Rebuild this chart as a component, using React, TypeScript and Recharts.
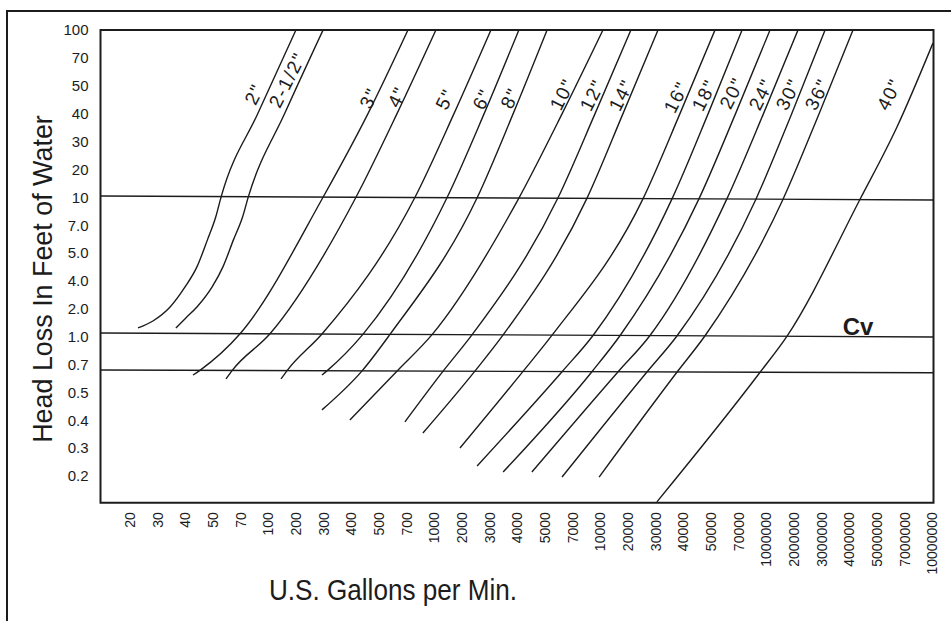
import React from "react";
import {
  ComposedChart,
  Line,
  Scatter,
  XAxis,
  YAxis,
  ReferenceArea,
  Label
} from "recharts";

const FONT = '"Liberation Sans", Arial, Helvetica, sans-serif';
const INK = "#1c1c1c";
const W = 951;
const H = 621;

// printed scales: every label sits one step further on, so values below are
// positions along these scales (0 = first label)
const flowLabels = [
  "20", "30", "40", "50", "70", "100", "200", "300", "400", "500", "700",
  "1000", "2000", "3000", "4000", "5000", "7000", "10000", "20000", "30000",
  "40000", "50000", "70000", "1000000", "2000000", "3000000", "4000000",
  "5000000", "7000000", "10000000"
];
const lossLabels = [
  "100", "70", "50", "40", "30", "20", "10", "7.0", "5.0", "4.0", "2.0",
  "1.0", "0.7", "0.5", "0.4", "0.3", "0.2"
];

const sizeNames = [
  '2"', '2-1/2"', '3"', '4"', '5"', '6"', '8"', '10"', '12"', '14"', '16"',
  '18"', '20"', '24"', '30"', '36"', '40"'
];

// each curve from its low end up to the top of the chart
const curveFlow: number[][] = [
  [0.29, 0.83, 1.45, 1.99, 2.42, 2.8, 3.1, 3.3, 4.63, 6.0],
  [1.66, 2.02, 2.42, 2.97, 3.36, 3.74, 4.07, 4.28, 5.6, 6.98],
  [2.28, 2.53, 3.98, 6.98, 8.6, 10.05],
  [3.47, 3.69, 5.06, 8.17, 9.65, 11.06],
  [5.46, 5.68, 6.94, 10.3, 11.71, 13.05],
  [6.94, 7.12, 8.42, 11.46, 12.8, 14.06],
  [6.94, 8.39, 9.4, 12.55, 13.85, 15.08],
  [7.95, 9.65, 10.92, 14.06, 15.62, 17.1],
  [9.94, 11.32, 12.37, 15.47, 16.81, 18.11],
  [10.59, 12.47, 13.49, 16.52, 17.82, 19.09],
  [11.93, 14.21, 15.26, 18.55, 19.88, 21.15],
  [12.55, 15.62, 16.74, 19.6, 20.9, 22.13],
  [13.49, 16.7, 17.72, 20.57, 21.89, 23.14],
  [14.53, 17.64, 18.8, 21.58, 22.9, 24.15],
  [15.62, 18.69, 19.78, 22.63, 23.92, 25.13],
  [16.96, 19.78, 20.79, 23.61, 24.91, 26.14],
  [19.05, 22.78, 23.75, 26.39, 27.73, 29.03]
];
const curveLoss: number[][] = [
  [10.69, 10.44, 9.94, 9.22, 8.5, 7.53, 6.71, 5.97, 2.98, 0],
  [10.69, 10.33, 9.94, 9.22, 8.5, 7.53, 6.71, 5.98, 2.98, 0],
  [12.38, 12.21, 10.9, 6.0, 3.01, 0],
  [12.52, 12.22, 10.9, 6.0, 3.01, 0],
  [12.52, 12.22, 10.91, 6.01, 3.01, 0],
  [12.38, 12.23, 10.92, 6.02, 3.01, 0],
  [13.63, 12.23, 10.92, 6.02, 3.01, 0],
  [13.99, 12.24, 10.93, 6.03, 3.01, 0],
  [14.06, 12.24, 10.93, 6.03, 3.01, 0],
  [14.46, 12.24, 10.94, 6.04, 3.01, 0],
  [15.0, 12.25, 10.95, 6.05, 3.01, 0],
  [15.64, 12.26, 10.96, 6.05, 3.01, 0],
  [15.86, 12.26, 10.96, 6.06, 3.01, 0],
  [15.86, 12.27, 10.96, 6.06, 3.01, 0],
  [16.04, 12.27, 10.97, 6.07, 3.01, 0],
  [16.04, 12.27, 10.97, 6.07, 3.01, 0],
  [16.93, 12.28, 10.99, 6.08, 3.48, 0.47]
];

// where each size label sits
const tagFlow = [
  4.48, 5.68, 8.64, 9.65, 11.39, 12.73, 13.74, 15.62, 16.7, 17.75, 19.74,
  20.75, 21.76, 22.81, 23.79, 24.84, 27.44
];
const tagLoss = [
  2.3, 1.79, 2.44, 2.4, 2.48, 2.48, 2.44, 2.3, 2.33, 2.33, 2.4, 2.33, 2.26,
  2.3, 2.3, 2.3, 2.3
];

// horizontal reference lines (10, 1.0, 0.7) - slightly tilted in the print
const guideLossLeft = [5.955, 10.87, 12.2];
const guideLossRight = [6.099, 11.013, 12.3];

const cvFlow = [26.32];
const cvLoss = [10.62];

const X_MIN = -1.066;
const X_MAX = 29.05;
const Y_MAX = 16.96;

const curves = sizeNames.map((name, i) => ({
  name,
  points: curveFlow[i].map((x, j) => ({ x, y: curveLoss[i][j] }))
}));
const guides = guideLossLeft.map((y, i) => [
  { x: X_MIN, y },
  { x: X_MAX, y: guideLossRight[i] }
]);
const tags = sizeNames.map((name, i) => ({
  x: tagFlow[i],
  y: tagLoss[i],
  name
}));
const cvTag = cvFlow.map((x, i) => ({ x, y: cvLoss[i], name: "Cv" }));

const flowTicks = flowLabels.map((_, i) => i);
const lossTicks = lossLabels.map((_, i) => i);

const FlowTick = (props: any) => {
  const { x, y, payload } = props;
  return (
    <text
      transform={`translate(${x},${y}) rotate(-90)`}
      textAnchor="end"
      dy="0.36em"
      fontSize={14}
      fontFamily={FONT}
      fill={INK}
    >
      {flowLabels[payload.value]}
    </text>
  );
};

const LossTick = (props: any) => {
  const { x, y, payload } = props;
  return (
    <text
      x={x}
      y={y}
      dy="0.36em"
      textAnchor="end"
      fontSize={15}
      fontFamily={FONT}
      fill={INK}
    >
      {lossLabels[payload.value]}
    </text>
  );
};

const SizeTag = (props: any) => {
  const { cx, cy, payload } = props;
  return (
    <text
      transform={`translate(${cx},${cy}) rotate(-63)`}
      textAnchor="middle"
      dy="0.36em"
      fontSize={19}
      letterSpacing={1.5}
      fontFamily={FONT}
      fill={INK}
    >
      {payload.name}
    </text>
  );
};

const CvTag = (props: any) => {
  const { cx, cy, payload } = props;
  return (
    <text
      x={cx}
      y={cy}
      dy="0.36em"
      textAnchor="middle"
      fontSize={24}
      fontWeight="bold"
      fontFamily={FONT}
      fill={INK}
    >
      {payload.name}
    </text>
  );
};

const LossTitle = () => (
  <text
    transform="translate(52,279) rotate(-90) scale(0.96,1)"
    textAnchor="middle"
    fontSize={28}
    fontFamily={FONT}
    fill={INK}
  >
    Head Loss In Feet of Water
  </text>
);

const FlowTitle = () => (
  <text
    transform="translate(393,600) scale(0.9,1)"
    textAnchor="middle"
    fontSize={29}
    fontFamily={FONT}
    fill={INK}
  >
    U.S. Gallons per Min.
  </text>
);

export default function App() {
  return (
    <div
      style={{
        position: "absolute",
        left: 0,
        top: 0,
        width: W,
        height: H,
        overflow: "hidden",
        background: "#fff"
      }}
    >
      <div
        style={{
          position: "absolute",
          left: 6,
          top: 10,
          width: 1000,
          height: 700,
          border: `2px solid ${INK}`
        }}
      />
      <div style={{ position: "absolute", left: 0, top: 0 }}>
        <ComposedChart
          width={W}
          height={H}
          margin={{ top: 30, right: 17.5, bottom: 0, left: 0 }}
        >
          <XAxis
            type="number"
            dataKey="x"
            domain={[X_MIN, X_MAX]}
            allowDataOverflow
            ticks={flowTicks}
            interval={0}
            height={118.3}
            axisLine={false}
            tickLine={false}
            tickSize={0}
            tickMargin={9.5}
            tick={<FlowTick />}
          >
            <Label content={FlowTitle} />
          </XAxis>
          <YAxis
            type="number"
            dataKey="y"
            domain={[0, Y_MAX]}
            reversed
            allowDataOverflow
            ticks={lossTicks}
            interval={0}
            width={100.5}
            axisLine={false}
            tickLine={false}
            tickSize={0}
            tickMargin={12}
            tick={<LossTick />}
          >
            <Label content={LossTitle} />
          </YAxis>
          {guides.map((g, i) => (
            <Line
              key={`guide-${i}`}
              data={g}
              dataKey="y"
              type="linear"
              stroke={INK}
              strokeWidth={1.4}
              dot={false}
              activeDot={false}
              isAnimationActive={false}
            />
          ))}
          {curves.map((c) => (
            <Line
              key={c.name}
              data={c.points}
              dataKey="y"
              name={c.name}
              type="monotone"
              stroke={INK}
              strokeWidth={1.4}
              dot={false}
              activeDot={false}
              isAnimationActive={false}
            />
          ))}
          <Scatter
            data={tags}
            dataKey="y"
            shape={(p: any) => <SizeTag {...p} />}
            isAnimationActive={false}
          />
          <Scatter
            data={cvTag}
            dataKey="y"
            shape={(p: any) => <CvTag {...p} />}
            isAnimationActive={false}
          />
          <ReferenceArea
            x1={X_MIN}
            x2={X_MAX}
            y1={0}
            y2={Y_MAX}
            fill="none"
            stroke={INK}
            strokeWidth={2}
            ifOverflow="visible"
          />
        </ComposedChart>
      </div>
    </div>
  );
}
